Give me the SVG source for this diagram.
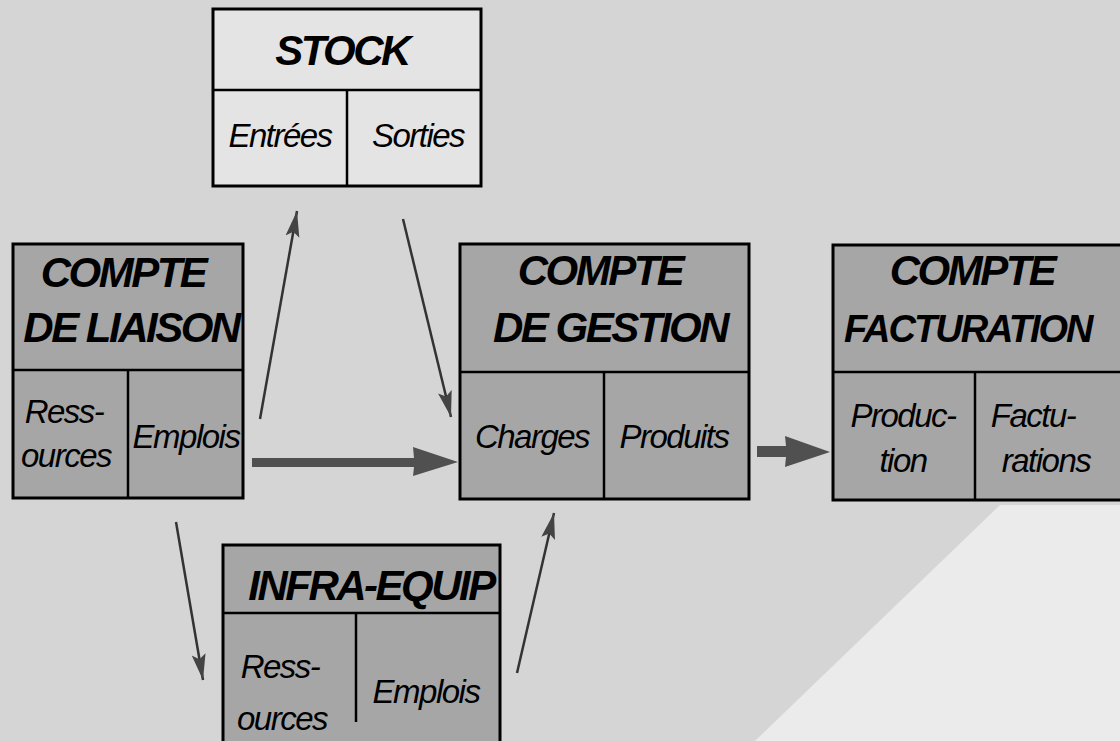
<svg xmlns="http://www.w3.org/2000/svg" width="1120" height="741" viewBox="0 0 1120 741">
<style>
.box{fill:#a6a6a6;stroke:#000;stroke-width:3}
.light{fill:#e4e4e4;stroke:#000;stroke-width:3}
.div{stroke:#000;stroke-width:2.5;fill:none}
.title{font-family:"Liberation Sans",Arial,Helvetica,sans-serif;font-weight:bold;font-style:italic;font-size:42px;letter-spacing:-2.5px;fill:#000;text-anchor:middle}
.cell{font-family:"Liberation Sans",Arial,Helvetica,sans-serif;font-style:italic;font-size:33px;letter-spacing:-1.5px;fill:#000;text-anchor:middle}
.thin{stroke:#333;stroke-width:2.5;fill:none;marker-end:url(#head)}
.thick{fill:#505050}
</style>
<defs>
<marker id="head" markerUnits="userSpaceOnUse" markerWidth="28" markerHeight="16" refX="26" refY="7" orient="auto">
<path d="M0,0 L26,7 L0,14 L5,7 z" fill="#444"/>
</marker>
</defs>
<rect x="0" y="0" width="1120" height="741" fill="#d5d5d5"/>
<polygon points="755,741 1000,505 1120,505 1120,741" fill="#ebebeb"/>

<g id="connectors">
<line class="thin" x1="260" y1="419" x2="297" y2="211"/>
<line class="thin" x1="403" y1="219" x2="451" y2="417"/>
<line class="thin" x1="517" y1="673" x2="554" y2="513"/>
<line class="thin" x1="176" y1="522" x2="203" y2="680"/>
<polygon class="thick" points="252,458 414,458 413,447 458,462 413,476 414,467 252,467"/>
<polygon class="thick" points="757,446 786,446 785,436 830,452 785,467 786,457 757,457"/>
</g>

<g id="stock">
<rect class="light" x="213" y="9" width="268" height="177"/>
<line class="div" x1="213" y1="90" x2="481" y2="90"/>
<line class="div" x1="347" y1="90" x2="347" y2="186"/>
<text class="title" x="342" y="65">STOCK</text>
<text class="cell" x="280" y="147">Entrées</text>
<text class="cell" x="418" y="147">Sorties</text>
</g>

<g id="compte-liaison">
<rect class="box" x="13" y="244" width="230" height="254"/>
<line class="div" x1="13" y1="370" x2="243" y2="370"/>
<line class="div" x1="128" y1="370" x2="128" y2="498"/>
<text class="title" x="123" y="287">COMPTE</text>
<text class="title" x="131" y="342">DE LIAISON</text>
<text class="cell" x="64" y="423">Ress-</text>
<text class="cell" x="66" y="467">ources</text>
<text class="cell" x="186" y="448">Emplois</text>
</g>

<g id="compte-gestion">
<rect class="box" x="460" y="244" width="289" height="255"/>
<line class="div" x1="460" y1="372" x2="749" y2="372"/>
<line class="div" x1="604" y1="372" x2="604" y2="499"/>
<text class="title" x="600" y="285">COMPTE</text>
<text class="title" x="610" y="342">DE GESTION</text>
<text class="cell" x="532" y="448">Charges</text>
<text class="cell" x="674" y="448">Produits</text>
</g>

<g id="compte-facturation">
<rect class="box" x="833" y="245" width="300" height="255"/>
<line class="div" x1="833" y1="372" x2="1133" y2="372"/>
<line class="div" x1="975" y1="372" x2="975" y2="500"/>
<text class="title" x="972" y="285">COMPTE</text>
<text class="title" x="844" y="342" style="text-anchor:start;font-size:38px;letter-spacing:-2px">FACTURATION</text>
<text class="cell" x="903" y="427">Produc-</text>
<text class="cell" x="903" y="472">tion</text>
<text class="cell" x="1033" y="427">Factu-</text>
<text class="cell" x="1046" y="472">rations</text>
</g>

<g id="infra-equip">
<rect class="box" x="223" y="545" width="277" height="210"/>
<line class="div" x1="223" y1="613" x2="500" y2="613"/>
<line class="div" x1="356" y1="613" x2="356" y2="722"/>
<text class="title" x="371" y="600">INFRA-EQUIP</text>
<text class="cell" x="280" y="678">Ress-</text>
<text class="cell" x="282" y="730">ources</text>
<text class="cell" x="426" y="703">Emplois</text>
</g>
</svg>
